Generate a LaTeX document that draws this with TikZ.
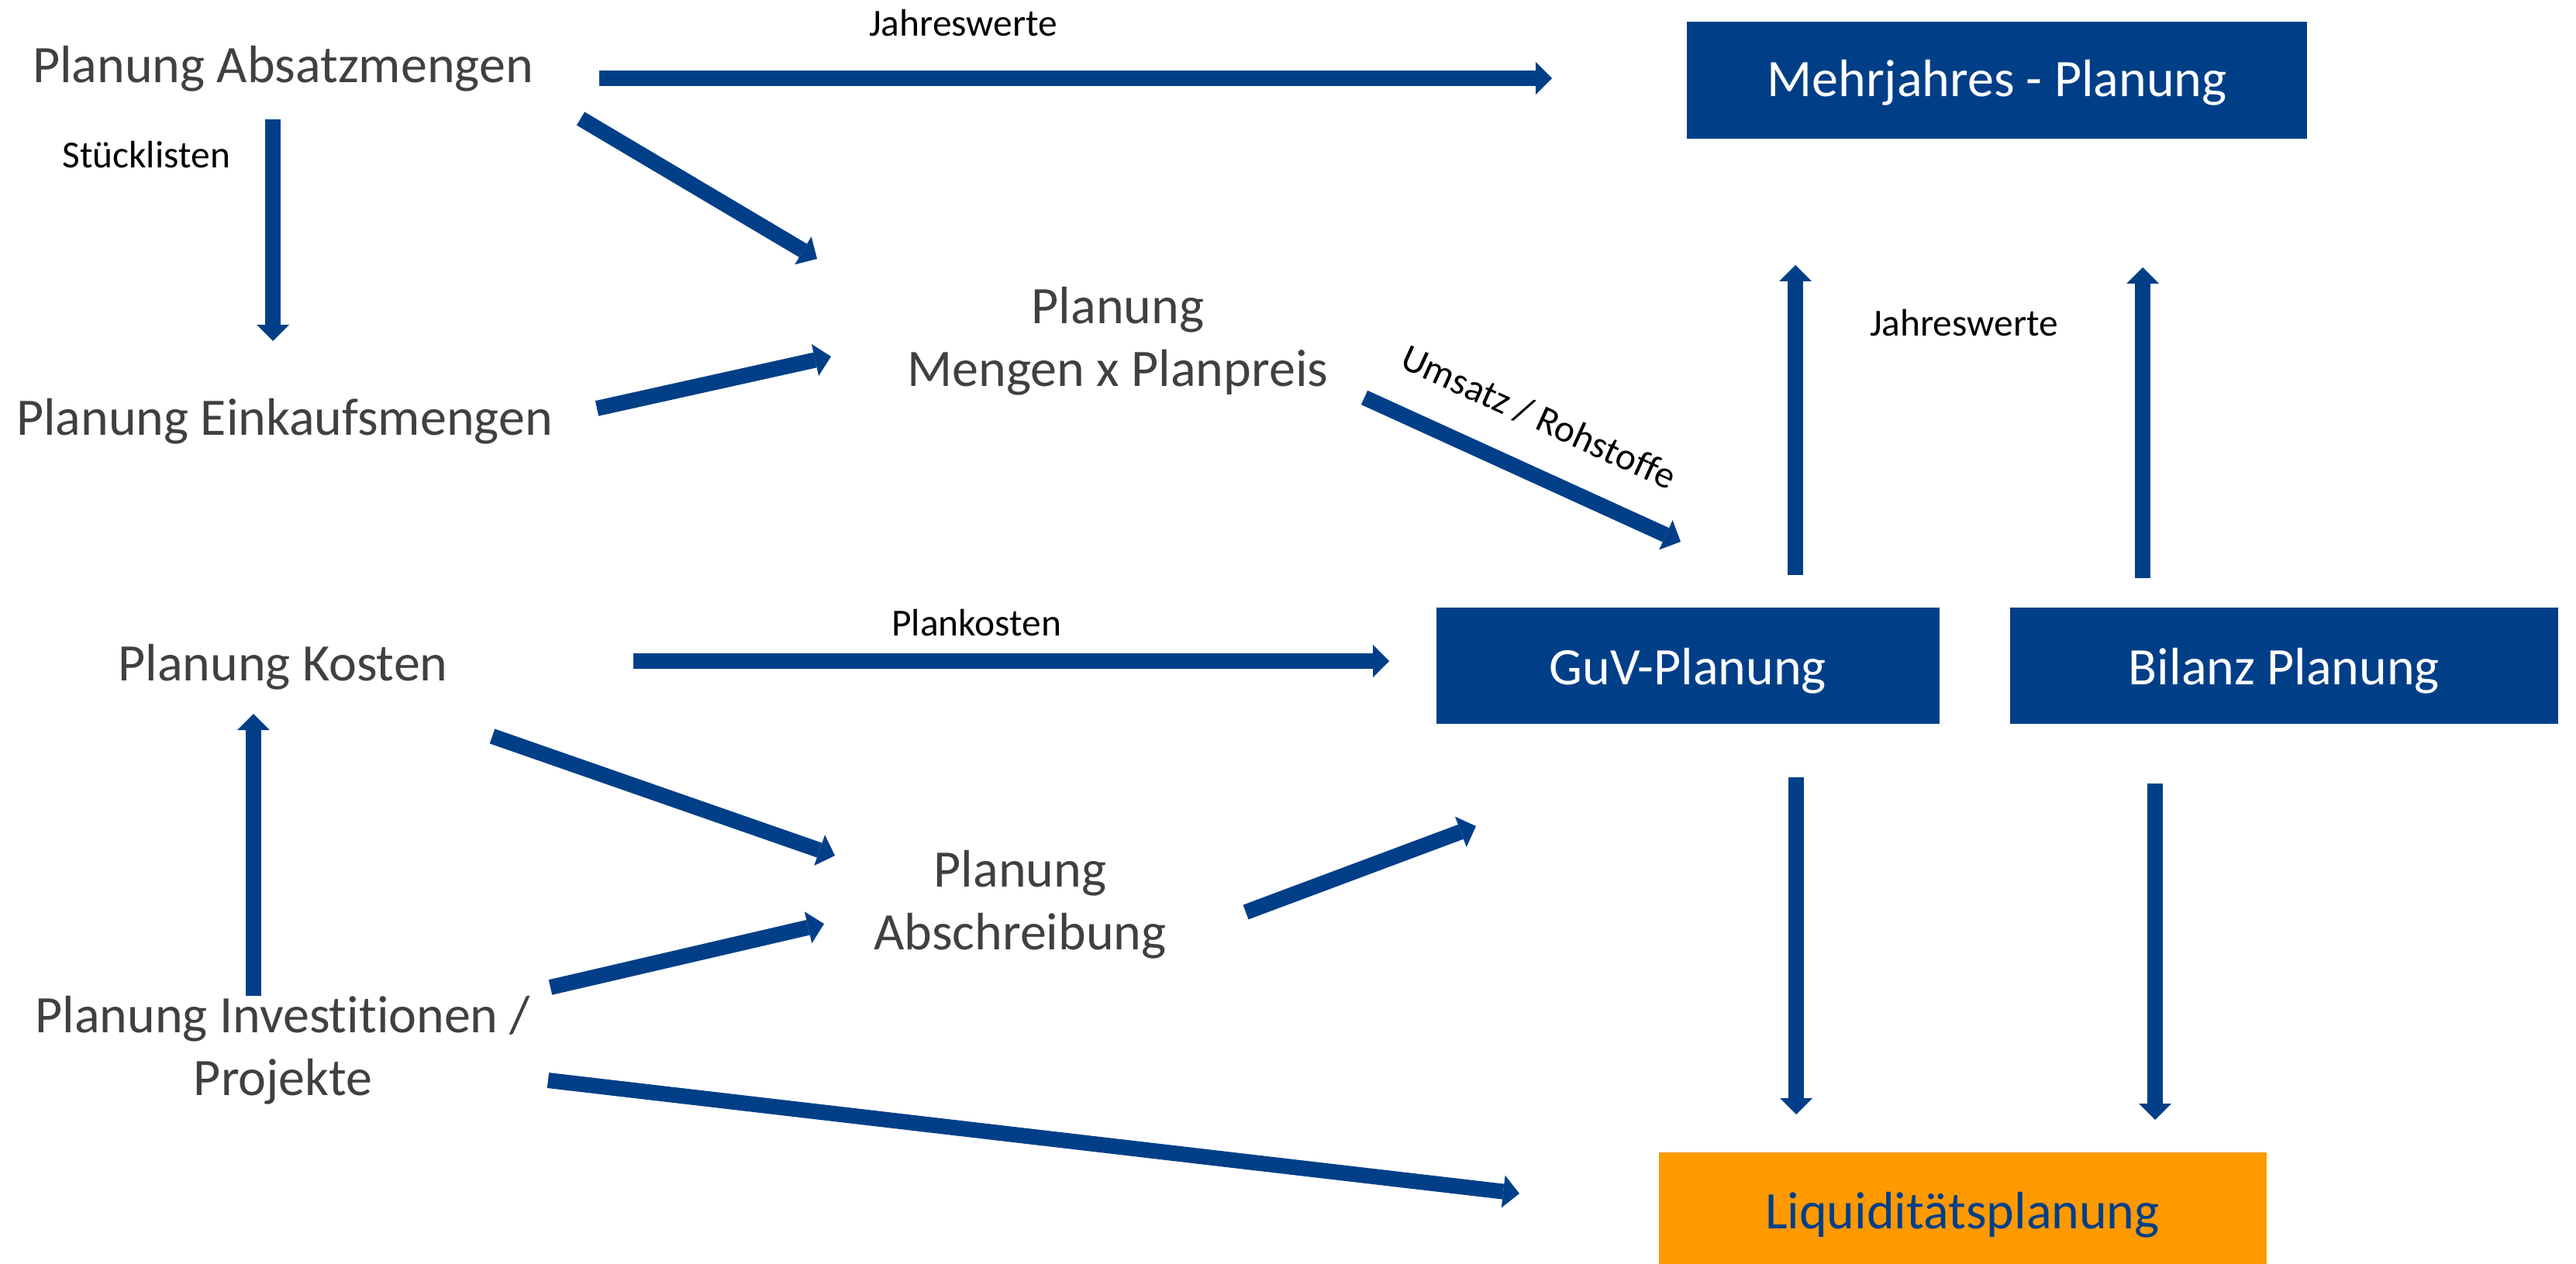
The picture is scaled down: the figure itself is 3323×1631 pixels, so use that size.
\documentclass[tikz,border=0pt]{standalone}
\usepackage{fontspec}
\setmainfont{Carlito}[Ligatures=NoCommon]
\usetikzlibrary{arrows.meta}
\definecolor{myblue}{RGB}{0,63,136}
\definecolor{myorange}{RGB}{255,153,0}
\definecolor{tgrey}{RGB}{64,64,64}
\tikzset{
  bigtext/.style={font=\fontsize{34}{40.5}\selectfont, text=tgrey, inner sep=0pt, anchor=base, align=center},
  smalltext/.style={font=\fontsize{24.7}{30}\selectfont, text=black, inner sep=0pt},
  bluebox/.style={fill=myblue, text=white, inner sep=0pt, font=\fontsize{34}{40.5}\selectfont},
  arr/.style={draw=myblue, line width=10pt, -{Triangle[width=21pt, length=10.5pt, line width=0pt]}}
}
\begin{document}
\begin{tikzpicture}[x=0.5pt, y=-0.5pt]
\useasboundingbox (0,0) rectangle (3323,1631);

% text nodes (base = baseline of the last line)
\node[bigtext] (absatz) at (365,107) {Planung Absatzmengen};
\node[bigtext] (einkauf) at (367,561) {Planung Einkaufsmengen};
\node[bigtext] (kosten) at (365,878) {Planung Kosten};
\node[bigtext] (invest) at (365,1413) {Planung Investitionen /\\Projekte};
\node[bigtext] (mengen) at (1442,498) {Planung\\Mengen x Planpreis};
\node[bigtext] (abschr) at (1316,1225) {Planung\\Abschreibung};

% boxes
\node[bluebox, minimum width=400pt, minimum height=75.5pt, text height=28pt, text depth=6.5pt] (mehr) at (2576,103.5) {Mehrjahres - Planung};
\node[bluebox, minimum width=324.5pt, minimum height=75pt, text height=30pt, text depth=6pt] (guv) at (2177.5,859) {GuV-Planung};
\node[bluebox, minimum width=353.5pt, minimum height=75pt, text height=30pt, text depth=6pt] (bilanz) at (2946.5,859) {Bilanz Planung};
\node[fill=myorange, text=myblue, inner sep=0pt, font=\fontsize{34}{40.5}\selectfont, minimum width=392pt, minimum height=72pt, text height=32pt, text depth=6pt] (liq) at (2531.5,1559) {Liquiditätsplanung};

% connectors
\draw[arr] ([shift={(408,-6)}]absatz.base) -- node[smalltext, pos=0.382, anchor=base, yshift=27pt] {Jahreswerte} ([shift={(-574,-2.5)}]mehr.center);
\draw[arr] ([shift={(-13,47)}]absatz.base) -- node[smalltext, pos=0.22, anchor=base east, xshift=-22.5pt] {Stücklisten} ([shift={(-15,-121)}]einkauf.base);
\draw[arr] ([shift={(384,46)}]absatz.base) -- ([shift={(-388,-164)}]mengen.base);
\draw[arr] ([shift={(403,-34)}]einkauf.base) -- ([shift={(-370,-38)}]mengen.base);
\draw[arr] ([shift={(318,15)}]mengen.base) -- node[smalltext, pos=0.48, sloped, above=21pt] {Umsatz / Rohstoffe} ([shift={(-9.5,-160)}]guv.center);
\draw[arr] ([shift={(452,-25)}]kosten.base) -- node[smalltext, pos=0.454, anchor=base, yshift=16.5pt] {Plankosten} ([shift={(-385.5,-6)}]guv.center);
\draw[arr] ([shift={(270,72)}]kosten.base) -- ([shift={(-239,-121)}]abschr.base);
\draw[arr] ([shift={(345,-139)}]invest.base) -- ([shift={(-253,-33)}]abschr.base);
\draw[arr] ([shift={(-38,-128)}]invest.base) -- ([shift={(-38,43)}]kosten.base);
\draw[arr] ([shift={(342,-19)}]invest.base) -- ([shift={(-571.5,-19)}]liq.center);
\draw[arr] ([shift={(291,-48)}]abschr.base) -- ([shift={(-273.5,207)}]guv.center);
\draw[arr] ([shift={(138.5,-117)}]guv.center) -- node[smalltext, pos=0.77, anchor=base west, xshift=43pt] {Jahreswerte} ([shift={(-260,238.5)}]mehr.center);
\draw[arr] ([shift={(-182.5,-113)}]bilanz.center) -- ([shift={(188,241.5)}]mehr.center);
\draw[arr] ([shift={(139.5,144)}]guv.center) -- ([shift={(-214.5,-121)}]liq.center);
\draw[arr] ([shift={(-166.5,152)}]bilanz.center) -- ([shift={(248.5,-114)}]liq.center);
\end{tikzpicture}
\end{document}
